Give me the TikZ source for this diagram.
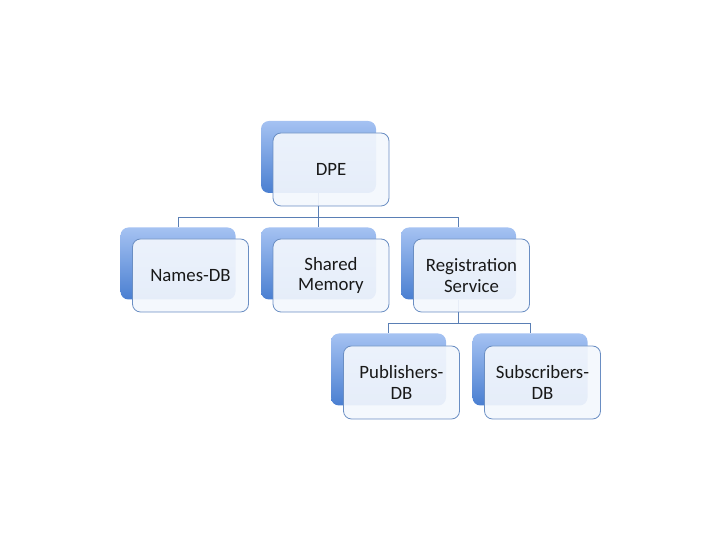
\documentclass[tikz,border=0pt]{standalone}
\usepackage{fontspec}
\setmainfont{Carlito}
\usetikzlibrary{calc}
\definecolor{backtop}{HTML}{A5C2F2}
\definecolor{backbot}{HTML}{4A7FD1}
\definecolor{frontfill}{HTML}{F3F7FD}
\definecolor{frontline}{HTML}{6A8EC3}
\definecolor{connline}{HTML}{5A7FB5}
\tikzset{
  backbox/.style={rectangle, rounded corners=8pt, minimum width=115pt, minimum height=72pt, inner sep=0pt, top color=backtop, bottom color=backbot, draw=none},
  frontbox/.style={rectangle, rounded corners=8pt, minimum width=116pt, minimum height=73pt, inner sep=0pt, draw=frontline, line width=0.8pt, fill=frontfill, fill opacity=0.92, text opacity=1, align=center, font=\fontsize{18.8}{20.5}\selectfont, text=black!90},
  conn/.style={draw=connline, line width=0.8pt}
}
\begin{document}
\begin{tikzpicture}[x=1pt,y=1pt]
\useasboundingbox (0,0) rectangle (720,540);
% back boxes
\node[backbox] (dpeB) at (318.5,383) {};
\node[backbox] (namesB) at (178,276.5) {};
\node[backbox] (sharedB) at (318.5,276.5) {};
\node[backbox] (regB) at (458.5,276.5) {};
\node[backbox] (pubB) at (388.5,170.5) {};
\node[backbox] (subB) at (530,170.5) {};
% connectors
\coordinate (j1) at (318.5,323);
\coordinate (j2) at (458.5,217);
\draw[conn] (dpeB.south) -- (j1);
\draw[conn] (j1) -| (namesB.north);
\draw[conn] (j1) -- (sharedB.north);
\draw[conn] (j1) -| (regB.north);
\draw[conn] (regB.south) -- (j2);
\draw[conn] (j2) -| (pubB.north);
\draw[conn] (j2) -| (subB.north);
% front boxes
\node[frontbox] (dpe) at (331,370.5) {DPE};
\node[frontbox] (names) at (190.5,264.5) {Names-DB};
\node[frontbox] (shared) at (331,264.5) {Shared\\Memory};
\node[frontbox] (reg) at (471.5,264.5) {Registration\\Service};
\node[frontbox] (pub) at (401.5,157.5) {Publishers-\\DB};
\node[frontbox] (sub) at (542.5,157.5) {Subscribers-\\DB};
\end{tikzpicture}
\end{document}
